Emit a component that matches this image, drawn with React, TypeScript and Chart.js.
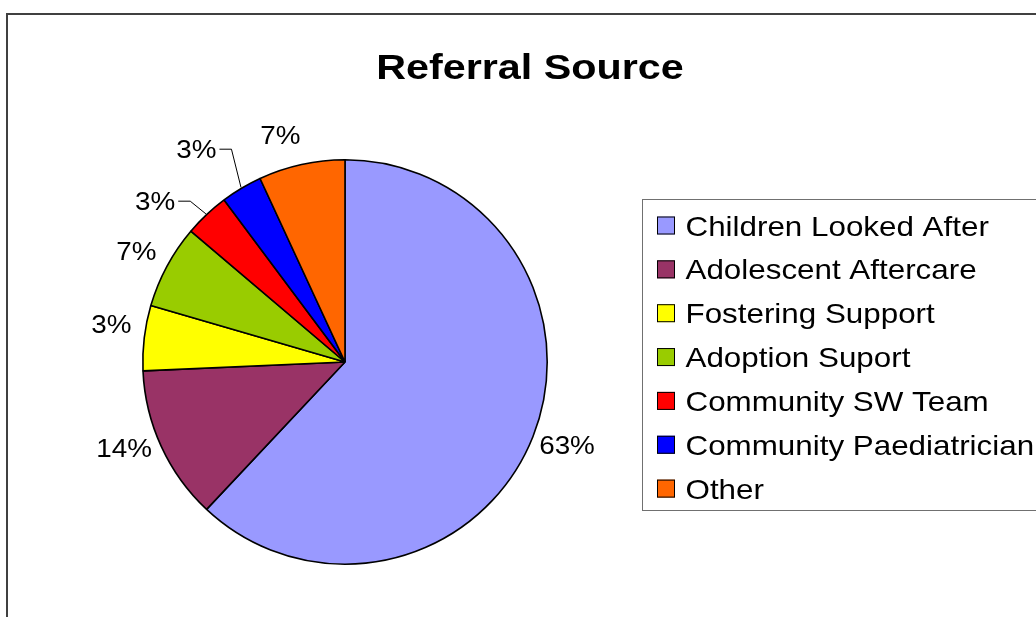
import React, { useEffect, useRef } from 'react';
import { Chart, registerables } from 'chart.js';

Chart.register(...registerables);

// ---- data ----
const titleText = 'Referral Source';
const categories = [
  'Children Looked After',
  'Adolescent Aftercare',
  'Fostering Support',
  'Adoption Suport',
  'Community SW Team',
  'Community Paediatrician',
  'Other',
];
// slice sizes (percent of whole)
const values = [62.0, 12.3, 5.2, 6.7, 3.6, 3.3, 6.9];
// the percentage labels as printed on the chart
const percentLabels = ['63%', '14%', '3%', '7%', '3%', '3%', '7%'];

// ---- style ----
const colors = ['#9999FF', '#993366', '#FFFF00', '#99CC00', '#FF0000', '#0000FF', '#FF6600'];
const FONT = '"Liberation Sans", Arial, Helvetica, sans-serif';
// label placement tweaks (degrees of nudge) – style only
const labelNudgeDeg = [-1.3, 3.6, 2.4, -0.1, 0, 0, -3.4];
const labelGap = 34.5;
// leader-line labels: index -> elbow angle shift (deg) and elbow extension (px)
const leaderLabels: Record<number, { shift: number; ext: number }> = {
  4: { shift: -0.7, ext: 21 },
  5: { shift: 2.7, ext: 39 },
};

function stretchText(
  ctx: CanvasRenderingContext2D,
  text: string,
  x: number,
  y: number,
  align: CanvasTextAlign,
  sx: number
) {
  ctx.save();
  ctx.translate(x, y);
  ctx.scale(sx, 1);
  ctx.textAlign = align;
  ctx.textBaseline = 'alphabetic';
  ctx.fillText(text, 0, 0);
  ctx.restore();
}

const decorPlugin = {
  id: 'decor',
  beforeDraw(chart: any) {
    const ctx: CanvasRenderingContext2D = chart.ctx;
    ctx.save();
    ctx.fillStyle = '#ffffff';
    ctx.fillRect(0, 0, chart.width, chart.height);
    // outer frame
    ctx.strokeStyle = '#404040';
    ctx.lineWidth = 2;
    ctx.strokeRect(7, 14, chart.width + 20, chart.height + 20);
    ctx.restore();
  },
  afterDatasetsDraw(chart: any) {
    const ctx: CanvasRenderingContext2D = chart.ctx;
    const meta = chart.getDatasetMeta(0);
    ctx.save();

    // title
    ctx.fillStyle = '#000';
    ctx.font = `bold 35px ${FONT}`;
    stretchText(ctx, titleText, 530, 79, 'center', 1.18);

    // percentage labels
    const lf = 26.5;
    ctx.font = `${lf}px ${FONT}`;
    meta.data.forEach((arc: any, i: number) => {
      const { x: cx, y: cy, startAngle, endAngle, outerRadius } = arc.getProps(
        ['x', 'y', 'startAngle', 'endAngle', 'outerRadius'],
        true
      );
      const mid = (startAngle + endAngle) / 2;
      const leader = leaderLabels[i];
      ctx.fillStyle = '#000';
      if (leader) {
        const sx = cx + (outerRadius + 1) * Math.cos(mid);
        const sy = cy + (outerRadius + 1) * Math.sin(mid);
        const ea = mid + (leader.shift * Math.PI) / 180;
        const ex = cx + (outerRadius + leader.ext) * Math.cos(ea);
        const ey = cy + (outerRadius + leader.ext) * Math.sin(ea);
        ctx.strokeStyle = '#000';
        ctx.lineWidth = 1;
        ctx.beginPath();
        ctx.moveTo(sx, sy);
        ctx.lineTo(ex, ey);
        ctx.lineTo(ex - 12, ey);
        ctx.stroke();
        stretchText(ctx, percentLabels[i], ex - 15, ey - 1 + lf * 0.358, 'right', 1.05);
      } else {
        const a = mid + (labelNudgeDeg[i] * Math.PI) / 180;
        const d = outerRadius + labelGap;
        const lx = cx + d * Math.cos(a);
        const ly = cy + d * Math.sin(a);
        stretchText(ctx, percentLabels[i], lx, ly + lf * 0.358, 'center', 1.05);
      }
    });

    // legend box
    const lx0 = 642.5;
    const ly0 = 199.5;
    const ly1 = 510.5;
    ctx.strokeStyle = '#707070';
    ctx.lineWidth = 1;
    ctx.strokeRect(lx0, ly0, chart.width + 20 - lx0, ly1 - ly0);

    const rowStart = 225.5;
    const rowStep = 43.85;
    const tf = 28;
    ctx.font = `${tf}px ${FONT}`;
    categories.forEach((name, i) => {
      const yc = rowStart + i * rowStep;
      ctx.fillStyle = colors[i];
      ctx.fillRect(657, yc - 9, 18, 18);
      ctx.strokeStyle = '#000';
      ctx.lineWidth = 1;
      ctx.strokeRect(657.5, yc - 8.5, 17, 17);
      ctx.fillStyle = '#000';
      stretchText(ctx, name, 685.5, yc + tf * 0.358, 'left', 1.12);
    });

    ctx.restore();
  },
};

export default function App() {
  const ref = useRef<HTMLCanvasElement>(null);
  useEffect(() => {
    const canvas = ref.current;
    if (!canvas) return;
    const W = 1036;
    const H = 617;
    const chart = new Chart(canvas, {
      type: 'pie',
      data: {
        labels: categories,
        datasets: [
          {
            data: values,
            backgroundColor: colors,
            borderColor: '#000000',
            borderWidth: 1.6,
            hoverOffset: 0,
            offset: 0,
          } as any,
        ],
      },
      options: {
        responsive: false,
        maintainAspectRatio: false,
        animation: false,
        events: [],
        devicePixelRatio: 1,
        layout: { padding: { left: 142, top: 159, right: W - 548, bottom: H - 565 } },
        plugins: {
          legend: { display: false },
          title: { display: false },
          tooltip: { enabled: false },
        },
      } as any,
      plugins: [decorPlugin as any],
    });
    return () => chart.destroy();
  }, []);
  return (
    <div style={{ position: 'absolute', left: 0, top: 0, width: 1036, height: 617, background: '#fff' }}>
      <canvas ref={ref} width={1036} height={617} style={{ display: 'block', width: 1036, height: 617 }} />
    </div>
  );
}
